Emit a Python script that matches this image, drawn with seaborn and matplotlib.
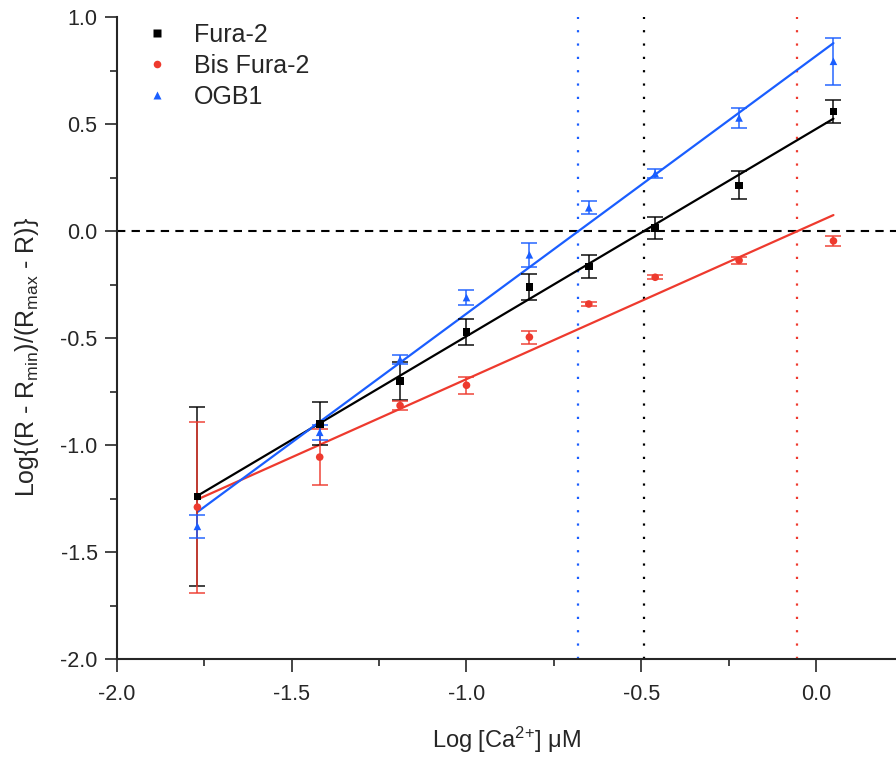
import numpy as np
import pandas as pd
import matplotlib
matplotlib.use("Agg")
import matplotlib.pyplot as plt
import seaborn as sns

# x values: log of free calcium (uM)
log_ca = [-1.77, -1.42, -1.19, -1.00, -0.82, -0.65, -0.46, -0.22, 0.05]

fura2 = [-1.24, -0.90, -0.70, -0.47, -0.26, -0.165, 0.015, 0.215, 0.56]
fura2_err = [0.42, 0.10, 0.09, 0.06, 0.06, 0.055, 0.05, 0.065, 0.055]

bis_fura2 = [-1.29, -1.056, -0.815, -0.72, -0.495, -0.34, -0.215, -0.136, -0.045]
bis_fura2_err = [0.40, 0.13, 0.02, 0.04, 0.03, 0.01, 0.01, 0.015, 0.025]

ogb1 = [-1.38, -0.94, -0.60, -0.31, -0.11, 0.11, 0.27, 0.53, 0.795]
ogb1_err = [0.055, 0.035, 0.02, 0.035, 0.055, 0.03, 0.02, 0.045, 0.11]

names = ["Fura-2", "Bis Fura-2", "OGB1"]
colors = {"Fura-2": "#000000", "Bis Fura-2": "#EE3A2E", "OGB1": "#1A5EFF"}
markers = {"Fura-2": "s", "Bis Fura-2": "o", "OGB1": "^"}

series = {"Fura-2": (fura2, fura2_err),
          "Bis Fura-2": (bis_fura2, bis_fura2_err),
          "OGB1": (ogb1, ogb1_err)}

rows = []
for name in names:
    vals, errs = series[name]
    for x, y, e in zip(log_ca, vals, errs):
        rows.append({"log_ca": x, "value": y, "err": e, "dye": name})
df = pd.DataFrame(rows)

sns.set_style("ticks")
plt.rcParams["font.family"] = ["Liberation Sans", "DejaVu Sans"]
plt.rcParams["mathtext.fontset"] = "custom"
plt.rcParams["mathtext.rm"] = "Liberation Sans"
plt.rcParams["mathtext.it"] = "Liberation Sans:italic"

fig = plt.figure(figsize=(8.96, 7.59), dpi=100)
ax = fig.add_axes([0.1306, 0.1318, 0.8694, 0.8452])

ax.axhline(0, color="black", lw=1.5, ls=(0, (4, 3)), zorder=1)

for name in names:
    sub = df[df["dye"] == name]
    c = colors[name]
    # fitted line
    sns.regplot(data=sub, x="log_ca", y="value", ci=None, scatter=False,
                color=c, line_kws={"lw": 1.6, "zorder": 3}, ax=ax)
    slope, intercept = np.polyfit(sub["log_ca"], sub["value"], 1)
    ax.axvline(-intercept / slope, color=c, lw=1.6, ls=(0, (1, 5)), zorder=1)
    ax.errorbar(sub["log_ca"], sub["value"], yerr=sub["err"], fmt="none",
                ecolor=c, elinewidth=1.3, capsize=5.5, capthick=1.3,
                alpha=0.8, zorder=4)

sns.scatterplot(data=df, x="log_ca", y="value", hue="dye", style="dye",
                hue_order=names, style_order=names, palette=colors,
                markers=markers, s=30, edgecolor="none", zorder=5, ax=ax)

ax.set_xlim(-2.0, 0.229)
ax.set_ylim(-2.0, 1.0)
ax.set_xticks(np.arange(-2.0, 0.01, 0.5))
ax.set_yticks(np.arange(-2.0, 1.01, 0.5))
ax.set_xticks(np.arange(-1.75, 0.1, 0.5), minor=True)
ax.set_yticks(np.arange(-1.75, 1.0, 0.5), minor=True)
ax.xaxis.set_major_formatter(matplotlib.ticker.FormatStrFormatter("%.1f"))
ax.yaxis.set_major_formatter(matplotlib.ticker.FormatStrFormatter("%.1f"))
ax.tick_params(which="major", length=9, width=1.2, labelsize=15.5)
ax.tick_params(axis="x", which="major", pad=9)
ax.tick_params(axis="y", which="major", pad=5)
ax.tick_params(which="minor", length=5, width=1.2)

sns.despine(ax=ax)
for s in ["left", "bottom"]:
    ax.spines[s].set_linewidth(1.5)

ax.set_xlabel(r"Log [Ca$^{2{+}}$] μM", fontsize=17, labelpad=14)
ax.set_ylabel(r"Log{(R - R$_{\rm min}$)/(R$_{\rm max}$ - R)}", fontsize=18)
ax.yaxis.set_label_coords(-0.097, 0.47)

leg = ax.legend(loc="upper left", bbox_to_anchor=(0.035, 0.991), frameon=False,
                fontsize=18, handlelength=1.0, handletextpad=1.0,
                labelspacing=0.27, borderaxespad=0, borderpad=0,
                markerscale=1.0, title=None)

fig.savefig("out.png", dpi=100)
